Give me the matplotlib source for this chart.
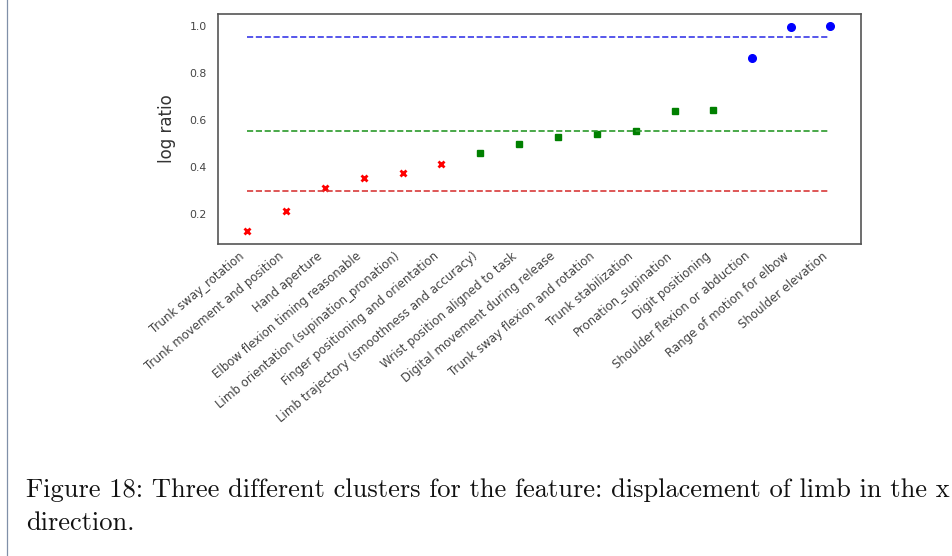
import numpy as np
import matplotlib
matplotlib.use("Agg")
import matplotlib.pyplot as plt
from matplotlib.lines import Line2D

features = [
    "Trunk sway_rotation", "Trunk movement and position", "Hand aperture",
    "Elbow flexion timing reasonable", "Limb orientation (supination_pronation)",
    "Finger positioning and orientation", "Limb trajectory (smoothness and accuracy)",
    "Wrist position aligned to task", "Digital movement during release",
    "Trunk sway flexion and rotation", "Trunk stabilization", "Pronation_supination",
    "Digit positioning", "Shoulder flexion or abduction", "Range of motion for elbow",
    "Shoulder elevation",
]

# log ratio per cluster, in feature order
low_vals = [0.128, 0.214, 0.311, 0.354, 0.374, 0.411]
mid_vals = [0.460, 0.499, 0.526, 0.540, 0.553, 0.638, 0.643]
high_vals = [0.865, 0.997, 0.999]

caption_lines = [
    "Figure 18: Three different clusters for the feature: displacement of limb in the x",
    "direction.",
]

fig = plt.figure(figsize=(9.53, 5.56), dpi=100)
ax = fig.add_axes([0.2288, 0.5612, 0.6747, 0.4145])

idx_low = np.arange(len(low_vals))
idx_mid = np.arange(len(mid_vals)) + len(low_vals)
idx_high = np.arange(len(high_vals)) + len(low_vals) + len(mid_vals)
n = len(features)

ax.plot(idx_low, low_vals, 'x', color='red', ms=4.5, mew=2)
ax.plot(idx_mid, mid_vals, 's', color='green', ms=5)
ax.plot(idx_high, high_vals, 'o', color='blue', ms=5.5)

# cluster means
ax.plot([0, n - 1], [np.mean(low_vals)] * 2, '--', color='#d83a3a', lw=1.2)
ax.plot([0, n - 1], [np.mean(mid_vals)] * 2, '--', color='#2a9a2a', lw=1.2)
ax.plot([0, n - 1], [np.mean(high_vals)] * 2, '--', color='#3a3ae8', lw=1.2)

ax.set_xlim(-0.75, n - 1 + 0.8)
ax.set_ylim(0.072, 1.053)
ax.set_yticks([0.2, 0.4, 0.6, 0.8, 1.0])
ax.set_xticks(range(n))
ax.set_xticklabels(features, rotation=40, ha='right', fontsize=8.5, color='#444444')
ax.tick_params(axis='y', labelsize=7.8, labelcolor='#444444', length=0, pad=8)
ax.tick_params(axis='x', length=0, pad=4)
ax.set_ylabel("log ratio", fontsize=12, color='#333333', labelpad=10)
for s in ax.spines.values():
    s.set_color('#555555')
    s.set_linewidth(1.2)

# page border on the left
fig.add_artist(Line2D([0.0075, 0.0075], [0, 1], transform=fig.transFigure,
                      color='#8090a8', lw=0.9))

for line, yb in zip(caption_lines, [0.1061, 0.0468]):
    fig.text(0.027, yb, line, fontfamily='cmr10', fontsize=19.05, va='baseline',
             ha='left', color='#111111')

fig.savefig("out.png", dpi=100)
